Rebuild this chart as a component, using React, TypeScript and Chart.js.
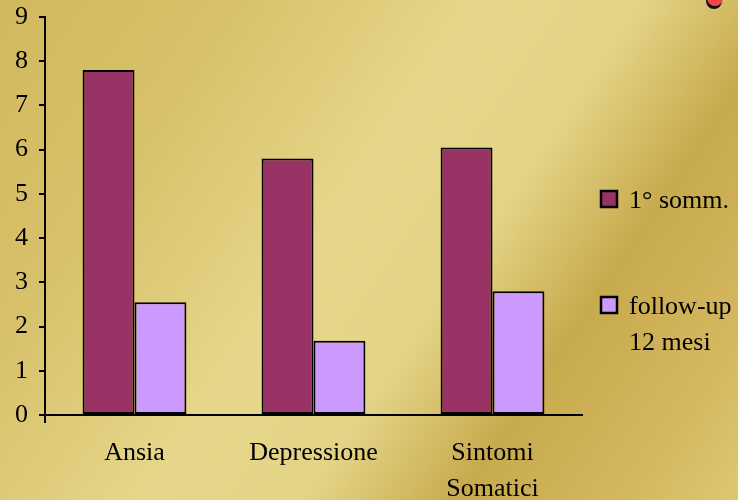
import React, { useEffect, useRef } from "react";
import { Chart, registerables } from "chart.js";

Chart.register(...registerables);

const categories: (string | string[])[] = ["Ansia", "Depressione", ["Sintomi", "Somatici"]];
const seriesNames: string[][] = [["1° somm."], ["follow-up", "12 mesi"]];
const primoSomm = [7.8, 5.8, 6.05];
const followUp = [2.55, 1.68, 2.8];
const seriesColors = ["#993366", "#CC99FF"];
const yTicks = [0, 1, 2, 3, 4, 5, 6, 7, 8, 9];

const FONT = '"Liberation Serif", "Times New Roman", serif';
const FS = 26;

const bgPlugin = {
  id: "bgPlugin",
  beforeDraw(chart: any) {
    const { ctx, width, height } = chart;
    ctx.save();
    const g = ctx.createLinearGradient(0, 0, width, height);
    g.addColorStop(0, "#D2B95E");
    g.addColorStop(0.22, "#D8C16B");
    g.addColorStop(0.45, "#E6D78A");
    g.addColorStop(0.6, "#E3D385");
    g.addColorStop(0.74, "#C8AA4E");
    g.addColorStop(0.88, "#D3B65E");
    g.addColorStop(1, "#DDC673");
    ctx.fillStyle = g;
    ctx.fillRect(0, 0, width, height);
    ctx.fillStyle = "#111";
    ctx.beginPath();
    ctx.ellipse(714, 1, 8, 8, 0, 0, Math.PI * 2);
    ctx.fill();
    ctx.fillStyle = "#F04848";
    ctx.beginPath();
    ctx.ellipse(715, -2, 8, 8, 0, 0, Math.PI * 2);
    ctx.fill();
    ctx.restore();
  },
  afterDraw(chart: any) {
    const { ctx, chartArea } = chart;
    ctx.save();
    ctx.strokeStyle = "#000";
    ctx.lineWidth = 2;
    ctx.beginPath();
    ctx.moveTo(chartArea.left, chartArea.bottom);
    ctx.lineTo(chartArea.left, chartArea.bottom + 8);
    ctx.stroke();
    const boxX = 601;
    const textX = 629;
    const centers = [199, 305];
    const lh = 36;
    ctx.font = `${FS}px ${FONT}`;
    ctx.textBaseline = "middle";
    ctx.textAlign = "left";
    chart.data.datasets.forEach((ds: any, i: number) => {
      const cy = centers[i];
      ctx.fillStyle = ds.backgroundColor;
      ctx.fillRect(boxX, cy - 8, 16, 16);
      ctx.strokeStyle = "#000";
      ctx.lineWidth = 2.5;
      ctx.strokeRect(boxX, cy - 8, 16, 16);
      ctx.fillStyle = "#000";
      const lines: string[] = seriesNames[i];
      lines.forEach((t, j) => ctx.fillText(t, textX, cy + 2 + j * lh));
    });
    ctx.restore();
  },
};

export default function App() {
  const ref = useRef<HTMLCanvasElement>(null);
  useEffect(() => {
    document.body.style.margin = "0";
    const chart = new Chart(ref.current!, {
      type: "bar",
      data: {
        labels: categories as any,
        datasets: [
          { label: seriesNames[0].join(" "), data: primoSomm, backgroundColor: seriesColors[0], borderColor: "#000", borderWidth: 2, borderSkipped: false },
          { label: seriesNames[1].join(" "), data: followUp, backgroundColor: seriesColors[1], borderColor: "#000", borderWidth: 2, borderSkipped: false },
        ],
      },
      options: {
        animation: false,
        responsive: false,
        devicePixelRatio: 1,
        layout: { padding: { top: 17, right: 156, left: 0, bottom: 0 } },
        datasets: { bar: { barPercentage: 1, categoryPercentage: 0.58 } },
        plugins: { legend: { display: false }, tooltip: { enabled: false } },
        scales: {
          x: {
            grid: { display: false, drawTicks: false },
            border: { color: "#000", width: 2 },
            ticks: { color: "#000", padding: 20, font: { family: FONT, size: FS, lineHeight: 1.38 } },
            afterFit(scale: any) { scale.height = 85; scale.paddingLeft = 0; scale.paddingRight = 0; },
          },
          y: {
            min: 0,
            max: 9,
            afterBuildTicks(scale: any) { scale.ticks = yTicks.map((v) => ({ value: v })); },
            grid: { display: true, drawOnChartArea: false, drawTicks: true, tickLength: 6, color: "#000", lineWidth: 2 },
            border: { color: "#000", width: 2 },
            ticks: { color: "#000", padding: 11, font: { family: FONT, size: FS } },
            afterFit(scale: any) { scale.width = 45; scale.paddingTop = 0; scale.paddingBottom = 0; },
          },
        },
      },
      plugins: [bgPlugin],
    });
    return () => chart.destroy();
  }, []);
  return (
    <div style={{ width: 738, height: 500 }}>
      <canvas ref={ref} width={738} height={500} style={{ display: "block" }} />
    </div>
  );
}
